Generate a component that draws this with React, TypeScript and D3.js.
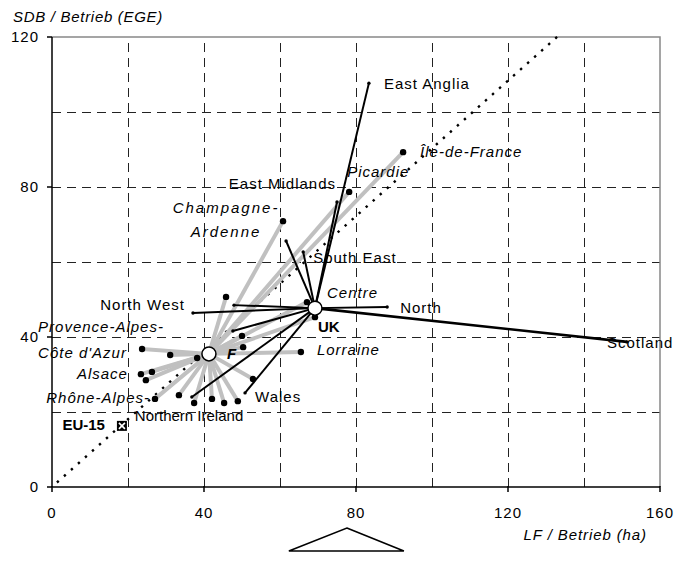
import React from 'react';
import * as d3 from 'd3';

// axis ticks and grid
const xTicks = [0, 40, 80, 120, 160];
const yTicks = [0, 40, 80, 120];
const xGrid = [20, 40, 60, 80, 100, 120, 140];
const yGrid = [20, 40, 60, 80, 100];

// country averages (LF ha / SDB EGE per holding)
const centreF = { name: 'F', lf: 41.3, sdb: 35.5 };
const centreUK = { name: 'UK', lf: 69.2, sdb: 47.7 };
const eu15 = { name: 'EU-15', lf: 18.4, sdb: 16.3 };
const diagonal = [
  { lf: 1.3, sdb: 1.2 },
  { lf: 134, sdb: 121 },
];
const pivotLF = 77.6;

// French regions
const frRegions = [
  { name: 'Île-de-France', lf: 92.4, sdb: 89.3 },
  { name: 'Picardie', lf: 78.2, sdb: 78.7 },
  { name: 'Champagne-Ardenne', lf: 60.8, sdb: 70.9 },
  { name: 'Centre', lf: 67.1, sdb: 49.3 },
  { name: 'Haute-Normandie', lf: 69.2, sdb: 45.3 },
  { name: 'Lorraine', lf: 65.5, sdb: 36.0 },
  { name: "Provence-Alpes-Côte d'Azur", lf: 23.7, sdb: 36.8 },
  { name: 'Languedoc-Roussillon', lf: 31.1, sdb: 35.2 },
  { name: 'Corse', lf: 38.2, sdb: 34.4 },
  { name: 'Alsace', lf: 23.4, sdb: 30.1 },
  { name: 'Franche-Comté', lf: 26.3, sdb: 30.7 },
  { name: 'Aquitaine', lf: 24.7, sdb: 28.5 },
  { name: 'Rhône-Alpes', lf: 27.1, sdb: 23.5 },
  { name: 'Midi-Pyrénées', lf: 33.4, sdb: 24.5 },
  { name: 'Auvergne', lf: 37.4, sdb: 22.4 },
  { name: 'Limousin', lf: 42.1, sdb: 23.5 },
  { name: 'Bretagne', lf: 45.3, sdb: 22.4 },
  { name: 'Pays de la Loire', lf: 48.9, sdb: 22.9 },
  { name: 'Poitou-Charentes', lf: 52.9, sdb: 28.8 },
  { name: 'Nord-Pas-de-Calais', lf: 45.8, sdb: 50.7 },
  { name: 'Basse-Normandie', lf: 50.0, sdb: 40.3 },
  { name: 'Bourgogne', lf: 50.3, sdb: 37.3 },
];

// UK regions
const ukRegions = [
  { name: 'East Anglia', lf: 83.4, sdb: 107.7 },
  { name: 'East Midlands', lf: 75.0, sdb: 76.0 },
  { name: 'Yorkshire', lf: 61.6, sdb: 65.6 },
  { name: 'South East', lf: 66.1, sdb: 62.7 },
  { name: 'North West', lf: 37.1, sdb: 46.4 },
  { name: 'West Midlands', lf: 47.9, sdb: 48.5 },
  { name: 'South West', lf: 47.6, sdb: 41.6 },
  { name: 'North', lf: 88.2, sdb: 48.0 },
  { name: 'Scotland', lf: 151.3, sdb: 38.7 },
  { name: 'Wales', lf: 50.8, sdb: 25.1 },
  { name: 'Northern Ireland', lf: 36.8, sdb: 24.0 },
];

// label placement (pixel offsets from the point)
type Lab = { dx: number; dy: number[]; anchor?: string; lines?: string[]; ls?: number };
const frLabels: Record<string, Lab> = {
  'Île-de-France': { dx: 17, dy: [5] },
  Picardie: { dx: -2, dy: [-15] },
  'Champagne-Ardenne': { dx: -57, dy: [-8, 16], anchor: 'middle', lines: ['Champagne-', 'Ardenne'], ls: 2 },
  Centre: { dx: 20, dy: [-4] },
  Lorraine: { dx: 16, dy: [3] },
  "Provence-Alpes-Côte d'Azur": { dx: -104, dy: [-17, 9], lines: ['Provence-Alpes-', "Côte d'Azur"] },
  Alsace: { dx: -13, dy: [5], anchor: 'end' },
  'Rhône-Alpes': { dx: -5, dy: [4], anchor: 'end', lines: ['Rhône-Alpes-'] },
};
const ukLabels: Record<string, Lab> = {
  'East Anglia': { dx: 15, dy: [6] },
  'East Midlands': { dx: -1, dy: [-13], anchor: 'end' },
  'South East': { dx: 10, dy: [11] },
  'North West': { dx: -8, dy: [-3], anchor: 'end' },
  North: { dx: 13, dy: [6] },
  Scotland: { dx: -20, dy: [6] },
  Wales: { dx: 10, dy: [9] },
  'Northern Ireland': { dx: -57, dy: [24], ls: 0 },
};

const font = "'Liberation Sans', Arial, sans-serif";

export default function App() {
  const width = 690, height = 561;
  const x = d3.scaleLinear().domain([0, 160]).range([52, 660]);
  const y = d3.scaleLinear().domain([0, 120]).range([487, 37]);
  const line = d3.line<{ lf: number; sdb: number }>().x(d => x(d.lf)).y(d => y(d.sdb));

  const fx = x(centreF.lf), fy = y(centreF.sdb);
  const ux = x(centreUK.lf), uy = y(centreUK.sdb);
  const ex = x(eu15.lf), ey = y(eu15.sdb);
  const px = x(pivotLF);

  const renderLabel = (key: string, lab: Lab, cx: number, cy: number, italic: boolean) => {
    const lines = lab.lines || [key];
    return lines.map((t, i) => (
      <text key={key + i} x={cx + lab.dx} y={cy + lab.dy[i]}
        textAnchor={lab.anchor || 'start'} fontStyle={italic ? 'italic' : 'normal'}
        letterSpacing={lab.ls ?? 1}>{t}</text>
    ));
  };

  return (
    <svg width={width} height={height} style={{ position: 'absolute', left: 0, top: 0, background: '#fff' }}
      fontFamily={font} fontSize={15}>
      {/* grid */}
      <g stroke="#222" strokeWidth={1} strokeDasharray="9 6" shapeRendering="crispEdges">
        {xGrid.map(v => <line key={'gx' + v} x1={x(v)} x2={x(v)} y1={y(0)} y2={y(120)} />)}
        {yGrid.map(v => <line key={'gy' + v} x1={x(0)} x2={x(160)} y1={y(v)} y2={y(v)} />)}
      </g>
      <path d={`M${x(0)},${y(120)}H${x(160)}V${y(0)}`} fill="none" stroke="#888" strokeWidth={1.5} />

      {/* diagonal through EU-15 */}
      <path d={line(diagonal) || ''} fill="none" stroke="#000" strokeWidth={2.4} strokeDasharray="2.4 7" />

      {/* France */}
      <g stroke="#c0c0c0" strokeWidth={4}>
        {frRegions.map(r => <line key={'fl' + r.name} x1={fx} y1={fy} x2={x(r.lf)} y2={y(r.sdb)} />)}
      </g>
      {/* UK */}
      <g stroke="#000">
        {ukRegions.map(r => (
          <line key={'ul' + r.name} x1={ux} y1={uy} x2={x(r.lf)} y2={y(r.sdb)}
            strokeWidth={r.name === 'Scotland' ? 2.6 : 2} />
        ))}
      </g>
      {frRegions.map(r => <circle key={'fd' + r.name} cx={x(r.lf)} cy={y(r.sdb)} r={3.2} fill="#000" />)}
      {ukRegions.map(r => <circle key={'ud' + r.name} cx={x(r.lf)} cy={y(r.sdb)} r={1.7} fill="#000" />)}

      {/* axes */}
      <g stroke="#000" strokeWidth={1.5}>
        <line x1={x(0)} x2={x(0)} y1={y(0)} y2={y(120)} />
        <line x1={x(0)} x2={x(160)} y1={y(0)} y2={y(0)} />
        {xTicks.map(v => <line key={'xt' + v} x1={x(v)} x2={x(v)} y1={y(0) - 1} y2={y(0) + 5} />)}
        {yTicks.map(v => <line key={'yt' + v} x1={x(0) - 5} x2={x(0)} y1={y(v)} y2={y(v)} />)}
      </g>
      <g fill="#000">
        {xTicks.map(v => <text key={'xl' + v} x={x(v)} y={y(0) + 31} textAnchor="middle" letterSpacing={1}>{v}</text>)}
        {yTicks.map(v => <text key={'yl' + v} x={x(0) - 13} y={y(v) + 5} textAnchor="end" letterSpacing={1}>{v}</text>)}
        <text x={13} y={22} fontStyle="italic" letterSpacing={0.7}>SDB / Betrieb (EGE)</text>
        <text x={647} y={540} fontStyle="italic" textAnchor="end" letterSpacing={0.9}>LF / Betrieb (ha)</text>
      </g>

      {/* centres */}
      <circle cx={fx} cy={fy} r={7} fill="#fff" stroke="#000" strokeWidth={1.5} />
      <circle cx={ux} cy={uy} r={7} fill="#fff" stroke="#000" strokeWidth={1.5} />
      <rect x={ex - 5} y={ey - 5} width={10} height={10} fill="#000" />
      <path d={`M${ex - 3},${ey - 3}L${ex + 3},${ey + 3}M${ex + 3},${ey - 3}L${ex - 3},${ey + 3}`} stroke="#fff" strokeWidth={1.6} />

      {/* labels */}
      <g fill="#000">
        {frRegions.filter(r => frLabels[r.name]).map(r => renderLabel(r.name, frLabels[r.name], x(r.lf), y(r.sdb), true))}
        {ukRegions.filter(r => ukLabels[r.name]).map(r => renderLabel(r.name, ukLabels[r.name], x(r.lf), y(r.sdb), false))}
        <text x={fx + 18} y={fy + 5} fontWeight="bold" fontStyle="italic">{centreF.name}</text>
        <text x={ux + 3} y={uy + 24} fontWeight="bold">{centreUK.name}</text>
        <text x={ex - 17} y={ey + 4} fontWeight="bold" textAnchor="end">{eu15.name}</text>
      </g>

      {/* balance triangle under the axis */}
      <path d={`M${px},528L${px + 57},551H${px - 58}Z`} fill="#fff" stroke="#000" strokeWidth={1.6} />
    </svg>
  );
}
